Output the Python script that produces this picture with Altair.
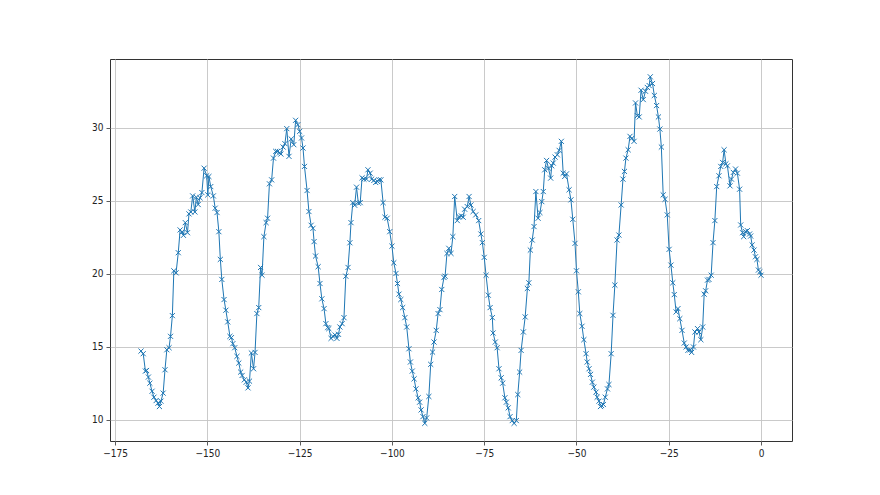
import altair as alt
import pandas as pd

hours = [
    -168.0, -167.4, -166.8, -166.5, -166.0, -165.6, -165.0, -164.5, -163.9, -163.4,
    -163.0, -162.6, -162.0, -161.5, -161.0, -160.4, -160.0, -159.5, -159.1, -158.5,
    -157.9, -157.4, -156.9, -156.5, -156.0, -155.4, -155.0, -154.5, -154.0, -153.4,
    -153.0, -152.5, -152.0, -151.5, -150.9, -150.2, -149.9, -149.6, -149.1, -148.4,
    -147.9,
    -147.4, -146.9, -146.5, -146.1, -145.5, -145.0, -144.5, -143.9, -143.5, -143.1,
    -142.6, -142.0, -141.5, -141.0, -140.6, -140.0, -139.5, -139.0, -138.6, -138.1,
    -137.5, -137.1, -136.6, -136.1, -135.6, -135.2, -134.7, -134.1, -133.7, -133.2,
    -132.6, -132.1, -131.5, -131.0, -130.4, -130.1, -129.5, -129.0, -128.5, -127.9,
    -127.3, -126.6, -126.1, -125.5, -125.0, -124.5, -124.1, -123.7, -123.0, -122.5,
    -121.9, -121.4, -121.1, -120.7, -120.0, -119.5, -119.0, -118.4, -117.9, -117.4,
    -117.1, -116.5, -116.0, -115.4, -114.9, -114.5, -114.1, -113.5, -113.0, -112.5,
    -111.9, -111.4, -111.1, -110.6, -110.1, -109.6, -109.1, -108.6, -108.1, -107.6,
    -106.9, -106.5, -105.9, -105.5, -104.9,
    -104.4, -103.9, -103.5, -103.0, -102.4, -101.9, -101.3, -100.6, -100.0, -99.5,
    -98.9, -98.5, -98.1, -97.6, -97.1, -96.5, -96.0, -95.4, -95.0, -94.5,
    -94.0, -93.5, -92.9, -92.5, -92.1, -91.6, -91.1, -90.6, -90.0, -89.5,
    -89.0, -88.6, -88.0, -87.5, -87.0, -86.5, -85.9, -85.6, -85.1, -84.6,
    -84.0, -83.5, -83.0,
    -82.3, -81.8, -81.2, -80.7, -80.3, -79.6, -79.1, -78.6, -78.0, -77.3,
    -76.5, -75.9, -75.5, -75.0, -74.5, -73.9, -73.4, -72.8, -72.6, -72.0,
    -71.5, -71.0, -70.4, -70.0, -69.4, -69.0, -68.5, -68.0, -67.4, -66.9,
    -66.3, -65.9, -65.4, -65.0, -64.4, -63.9, -63.3, -62.9, -62.5, -62.0,
    -61.5, -61.0,
    -60.4, -59.9, -59.4, -59.0, -58.6, -58.1, -57.6, -57.0, -56.7, -56.3,
    -55.8, -55.2, -54.7, -54.1, -53.6, -53.2, -52.7, -52.0, -51.5, -51.0,
    -50.4, -50.0, -49.5, -49.1, -48.5, -48.0, -47.4, -47.1, -46.6, -46.2,
    -45.7, -45.3, -44.7, -44.4, -43.9, -43.5, -43.2, -42.7, -42.2, -41.6,
    -41.2, -40.6, -40.1, -39.6,
    -39.0, -38.5, -37.9, -37.4, -37.0, -36.6, -36.0, -35.5, -35.0, -34.4,
    -34.0, -33.5, -33.0, -32.5, -31.9, -31.3, -30.8, -30.3, -30.0, -29.4,
    -28.9, -28.3, -27.8, -27.4, -27.0, -26.5, -26.0, -25.4, -24.9, -24.4,
    -23.9, -23.5, -23.0, -22.5, -22.0, -21.4, -20.8, -20.3, -19.8, -19.2,
    -18.8, -18.3, -17.9,
    -17.2, -16.8, -16.3, -15.8, -15.4, -15.0, -14.5, -14.1, -13.5, -13.0,
    -12.5, -12.0, -11.4, -10.9, -10.4, -10.0, -9.5, -9.1, -8.4, -8.0,
    -7.5, -6.9, -6.4, -5.8, -5.5, -5.0, -4.7, -4.2, -3.7, -3.1,
    -2.8, -2.4, -1.9, -1.5, -1.1, -0.7, -0.3, 0.0,
]

temps = [
    14.71, 14.53, 13.34, 13.38, 12.93, 12.51, 11.96, 11.55, 11.32, 11.14,
    10.91, 11.28, 11.83, 13.43, 14.80, 14.94, 15.72, 17.14, 20.21, 20.07,
    21.45, 23.01, 22.87, 22.64, 23.51, 22.82, 24.11, 24.24, 25.34, 24.24,
    25.25, 24.75, 25.21, 25.57, 27.24, 26.72, 25.41, 26.67, 25.98, 25.34,
    24.50,
    24.20, 22.89, 20.99, 19.62, 18.24, 17.51, 16.71, 15.72, 15.63, 15.22,
    14.94, 14.35, 13.89, 13.27, 13.04, 12.74, 12.58, 12.19, 12.65, 14.58,
    13.50, 14.62, 17.28, 17.69, 20.44, 19.91, 22.55, 23.51, 23.81, 26.17,
    26.44, 27.93, 28.39, 28.39, 28.30, 28.21, 28.69, 28.92, 29.95, 28.05,
    29.24, 28.85, 30.52, 30.22, 29.76, 29.31, 28.62, 27.36, 25.71, 24.27,
    23.33, 23.12, 22.21, 21.22, 20.49, 19.34, 18.29, 17.62, 16.59, 16.32,
    16.25, 15.58, 15.72, 15.81, 15.58, 15.86, 16.36, 16.59, 17.00, 19.84,
    20.44, 22.13, 23.51, 24.88, 24.70, 25.94, 24.84, 24.88, 26.58, 26.49,
    26.49, 27.13, 26.90, 26.49, 26.40,
    26.26, 26.33, 26.44, 26.44, 24.88, 23.88, 23.81, 22.89, 21.90, 20.76,
    20.03, 19.34, 18.61, 18.24, 17.69, 17.00, 16.36, 14.87, 13.96, 13.34,
    12.81, 12.12, 11.51, 11.21, 10.68, 10.22, 9.76, 10.13, 11.60, 13.80,
    14.64, 15.33, 16.13, 17.28, 17.55, 18.93, 19.75, 19.84, 21.40, 21.75,
    21.40, 22.55, 25.30,
    23.65, 23.92, 23.97, 23.88, 24.43, 24.61, 25.30, 24.72, 24.27, 24.04,
    23.65, 22.73, 22.14, 21.13, 19.91, 18.54, 17.69, 17.00, 15.95, 15.33,
    14.94, 13.50, 12.88, 12.51, 11.51, 11.21, 10.82, 10.22, 9.95, 9.76,
    9.95, 11.73, 13.27, 14.76, 16.02, 17.05, 19.00, 19.39, 21.63, 22.32,
    23.24, 25.64,
    23.81, 24.20, 24.95, 25.64, 27.13, 27.77, 27.24, 26.56, 27.40, 27.59,
    28.00, 28.16, 28.46, 29.08, 26.90, 26.67, 26.85, 25.76, 25.07, 23.74,
    22.09, 20.21, 18.77, 17.28, 16.41, 15.49, 14.53, 13.96, 13.50, 13.11,
    12.58, 12.24, 11.90, 11.55, 11.28, 10.91, 10.98, 11.05, 11.55, 12.12,
    12.42, 14.53, 17.16, 19.23,
    22.32, 22.66, 24.72, 26.49, 27.02, 27.93, 28.50, 29.42, 29.28, 29.08,
    31.71, 30.84, 30.75, 32.58, 31.94, 32.51, 32.77, 32.90, 33.50, 33.04,
    32.22, 31.53, 30.75, 29.92, 28.69, 25.41, 25.11, 24.04, 21.68, 20.60,
    19.39, 18.58, 17.39, 17.62, 16.93, 16.13, 15.26, 14.99, 14.76, 14.80,
    14.62, 14.99, 16.02,
    16.25, 16.02, 15.49, 16.36, 18.61, 18.84, 19.57, 19.62, 19.91, 22.14,
    23.65, 25.98, 26.72, 27.36, 27.63, 28.50, 27.54, 27.40, 26.03, 26.49,
    26.95, 27.18, 26.90, 25.80, 23.35, 22.82, 22.55, 22.89, 22.96, 22.73,
    22.59, 21.98, 21.63, 21.17, 20.99, 20.26, 20.14, 19.91,
]

x_ticks = [-175, -150, -125, -100, -75, -50, -25, 0]
y_ticks = [10, 15, 20, 25, 30]

n = min(len(hours), len(temps))
df = pd.DataFrame({"hour": hours[:n], "temp": temps[:n]})

BLUE = "#1f77b4"

x_enc = alt.X(
    "hour:Q",
    scale=alt.Scale(domain=[-176.4, 8.4], nice=False, zero=False),
    axis=alt.Axis(values=x_ticks, title=None, format="d"),
)
y_enc = alt.Y(
    "temp:Q",
    scale=alt.Scale(domain=[8.55, 34.72], nice=False, zero=False),
    axis=alt.Axis(values=y_ticks, title=None, format="d"),
)

line = alt.Chart(df).mark_line(color=BLUE, strokeWidth=1).encode(x=x_enc, y=y_enc)
pts = alt.Chart(df).mark_point(
    shape="M -1 -1 L 1 1 M -1 1 L 1 -1",
    filled=False,
    color=BLUE,
    size=26,
    strokeWidth=1,
    opacity=1,
).encode(x=x_enc, y=y_enc)

chart = (
    alt.layer(line, pts)
    .properties(
        width=682,
        height=382,
        autosize=alt.AutoSizeParams(type="none"),
        padding={"left": 102, "top": 51, "right": 10, "bottom": 40},
        background="white",
    )
    .configure_view(stroke="#333333", strokeWidth=1)
    .configure_axis(
        domain=False,
        grid=True,
        gridColor="#c4c4c4",
        gridWidth=0.9,
        ticks=True,
        tickColor="#333333",
        tickSize=4,
        tickWidth=0.8,
        labelFont="DejaVu Sans Condensed, DejaVu Sans",
        labelFontSize=10,
        labelColor="#222222",
        labelPadding=3,
    )
)

chart.save("out.html", embed_options={"renderer": "svg", "actions": False})
